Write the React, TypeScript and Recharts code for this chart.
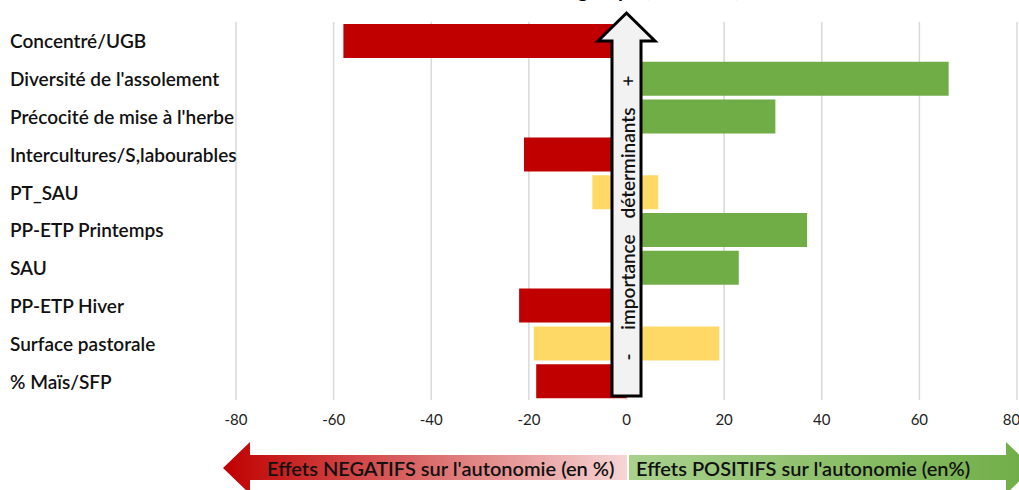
import React from "react";
import { BarChart, Bar, XAxis, YAxis, CartesianGrid, Cell } from "recharts";

// déterminants, du plus important (haut) au moins important (bas)
const categories = [
  "Concentré/UGB",
  "Diversité de l'assolement",
  "Précocité de mise à l'herbe",
  "Intercultures/S,labourables",
  "PT_SAU",
  "PP-ETP Printemps",
  "SAU",
  "PP-ETP Hiver",
  "Surface pastorale",
  "% Maïs/SFP",
];
const negatifs = [-58, 0, 0, -21, -7, 0, 0, -22, -19, -18.5];
const positifs = [0, 66, 30.5, 0, 6.5, 37, 23, 0, 19, 0];
const xTicks = [-80, -60, -40, -20, 0, 20, 40, 60, 80];

const RED = "#C00000";
const GREEN = "#70AD47";
const YELLOW = "#FFD966";
const FONT = "Lato, 'Open Sans', sans-serif";

const data = categories.map((name, i) => ({ name, neg: negatifs[i], pos: positifs[i] }));

const colorFor = (d: { neg: number; pos: number }, side: "neg" | "pos") => {
  if (d.neg !== 0 && d.pos !== 0) return YELLOW;
  return side === "neg" ? RED : GREEN;
};

const CategoryTick = (props: any) => {
  const { y, payload } = props;
  return (
    <text x={10} y={y} textAnchor="start" dominantBaseline="central" fontSize={19} fontWeight={600} fill="#111" fontFamily={FONT}>
      {payload.value}
    </text>
  );
};

export default function App() {
  return (
    <div style={{ position: "absolute", left: 0, top: 0, width: 1019, height: 490, background: "#fff", fontFamily: FONT, overflow: "hidden" }}>
      <BarChart
        width={1019}
        height={440}
        data={data}
        layout="vertical"
        stackOffset="sign"
        barCategoryGap={2}
        margin={{ top: 22, right: 2, left: 0, bottom: 0 }}
      >
        <CartesianGrid horizontal={false} stroke="#d9d9d9" strokeWidth={1.5} />
        <XAxis
          type="number"
          domain={[-80, 80]}
          ticks={xTicks}
          axisLine={false}
          tickLine={false}
          height={40}
          tickMargin={8}
          tick={{ fontSize: 15, fill: "#222", fontFamily: FONT }}
        />
        <YAxis
          type="category"
          dataKey="name"
          width={236}
          axisLine={false}
          tickLine={false}
          interval={0}
          tick={<CategoryTick />}
        />
        <Bar dataKey="neg" stackId="s" isAnimationActive={false}>
          {data.map((d, i) => (
            <Cell key={i} fill={colorFor(d, "neg")} />
          ))}
        </Bar>
        <Bar dataKey="pos" stackId="s" isAnimationActive={false}>
          {data.map((d, i) => (
            <Cell key={i} fill={colorFor(d, "pos")} />
          ))}
        </Bar>
      </BarChart>

      <svg width={1019} height={490} style={{ position: "absolute", left: 0, top: 0, pointerEvents: "none" }}>
        <defs>
          <linearGradient id="gNeg" x1="0" x2="1" y1="0" y2="0">
            <stop offset="0%" stopColor="#C00000" />
            <stop offset="100%" stopColor="#F6D5D5" />
          </linearGradient>
          <linearGradient id="gPos" x1="0" x2="1" y1="0" y2="0">
            <stop offset="0%" stopColor="#A9D18E" />
            <stop offset="100%" stopColor="#70AD47" />
          </linearGradient>
        </defs>

        {/* titre, coupé par le bord haut comme dans l'original */}
        <text x={740} y={-3} textAnchor="end" fontSize={20} fontWeight={700} fill="#000" fontFamily={FONT}>
          Effets des déterminants sur l'autonomie du groupe (ensemble)
        </text>

        {/* flèche verticale */}
        <path
          d="M612,396 L612,41 L598,41 L626.5,13 L655,41 L641,41 L641,396 Z"
          fill="#f2f2f2"
          stroke="#000"
          strokeWidth={3}
          strokeLinejoin="miter"
        />
        <g transform="translate(627,220) rotate(-90)" fontFamily={FONT} fontSize={19} fontWeight={600} fill="#111">
          <text x={-137} y={0} textAnchor="middle" dominantBaseline="central">-</text>
          <text x={-62} y={0} textAnchor="middle" dominantBaseline="central">importance</text>
          <text x={57} y={0} textAnchor="middle" dominantBaseline="central">déterminants</text>
          <text x={139} y={0} textAnchor="middle" dominantBaseline="central">+</text>
        </g>

        {/* flèches du bas */}
        <path d="M627,455 L250,455 L250,442 L223,468 L250,494 L250,480 L627,480 Z" fill="url(#gNeg)" />
        <path d="M629,455 L1006,455 L1006,442 L1033,468 L1006,494 L1006,480 L629,480 Z" fill="url(#gPos)" />
        <text x={267} y={468} dominantBaseline="central" fontSize={20} fontWeight={600} fill="#111" fontFamily={FONT}>
          Effets NEGATIFS sur l'autonomie (en %)
        </text>
        <text x={636} y={468} dominantBaseline="central" fontSize={20} fontWeight={600} fill="#111" fontFamily={FONT}>
          Effets POSITIFS sur l'autonomie (en%)
        </text>
      </svg>
    </div>
  );
}
